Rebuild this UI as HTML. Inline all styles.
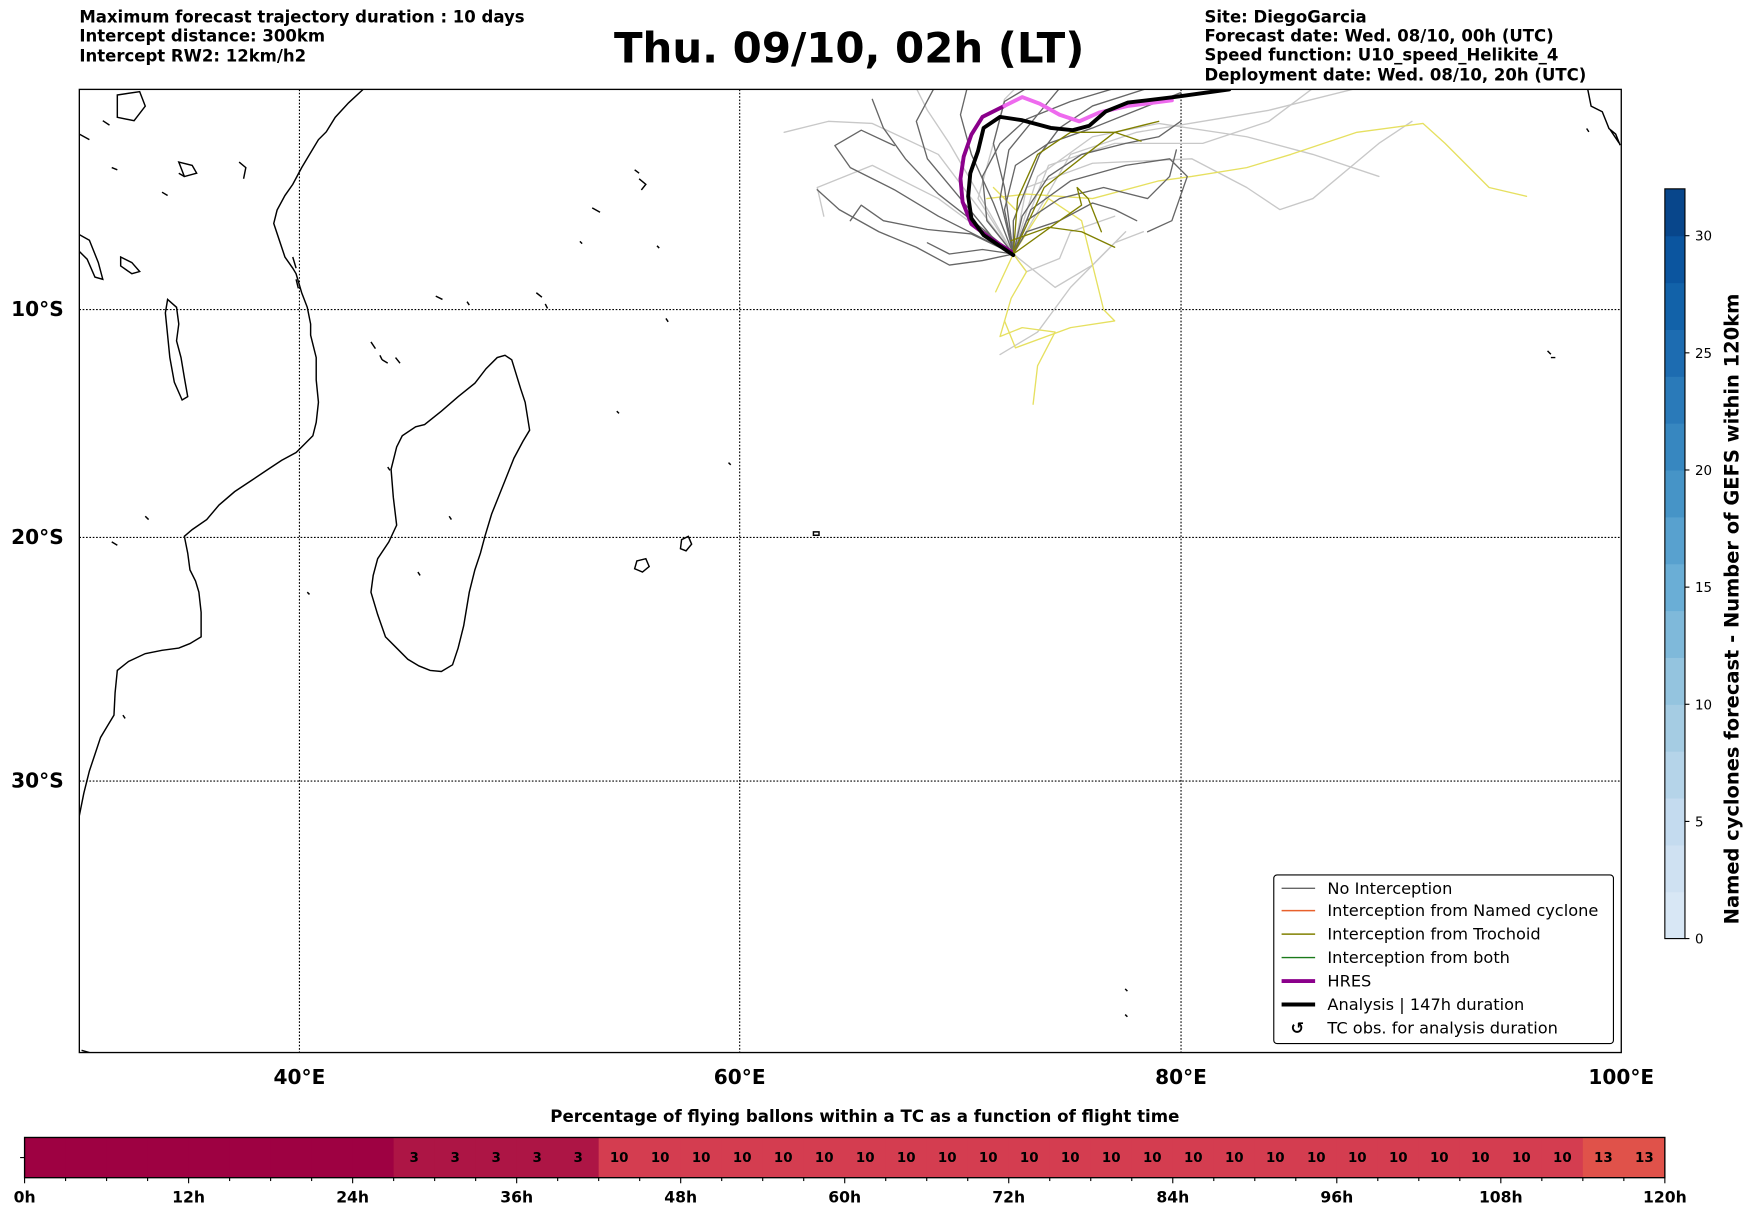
<!DOCTYPE html>
<html><head><meta charset="utf-8"><style>
html,body{margin:0;padding:0;background:#fff}
svg{display:block}
text{font-family:"DejaVu Sans","Liberation Sans",sans-serif}
</style></head><body>
<svg id="fig" xmlns="http://www.w3.org/2000/svg" width="1752" height="1213" viewBox="0 0 1568 1085.6">
<g font-size="14.8" font-weight="bold">
<text x="71" y="20">Maximum forecast trajectory duration : 10 days</text>
<text x="71" y="37">Intercept distance: 300km</text>
<text x="71" y="55">Intercept RW2: 12km/h2</text>
</g>
<text x="760" y="56" font-size="37.5" font-weight="bold" text-anchor="middle">Thu. 09/10, 02h (LT)</text>
<g font-size="14.8" font-weight="bold">
<text x="1078" y="20">Site: DiegoGarcia</text>
<text x="1078" y="37">Forecast date: Wed. 08/10, 00h (UTC)</text>
<text x="1078" y="54">Speed function: U10_speed_Helikite_4</text>
<text x="1078" y="72">Deployment date: Wed. 08/10, 20h (UTC)</text>
</g>
<defs><clipPath id="mapclip"><rect x="71" y="80" width="1380" height="862"/></clipPath></defs>
<g id="map" clip-path="url(#mapclip)">
<g id="coast" fill="none" stroke="#000" stroke-width="1.3">
<path d="M325,80 L312,92 300,105 292,118 285,125 276,140 270,150 262,165 255,175 248,188 245,200 250,215 255,230 262,240 265,245 270,262 275,275 278,290 278,300 283,320 283,340 285,360 283,378 280,390 272,398 265,405 252,412 240,420 225,430 210,440 196,452 185,465 172,474 165,480 168,495 170,510 175,520 178,530 180,548 180,570 170,576 160,580 145,582 130,585 115,592 105,600 103,620 102,640 96,650 90,660 85,675 80,690 75,710 71,730"/>
<path d="M452,318 L458,322 462,335 466,348 470,360 474,385 468,395 460,410 452,430 446,445 440,460 434,480 430,495 425,510 420,530 415,560 410,580 405,595 395,601 385,600 375,596 365,590 355,580 345,570 338,550 332,530 334,515 338,500 348,485 355,470 352,445 350,420 355,400 360,390 372,382 380,380 395,368 410,355 425,343 435,330 445,320 Z"/>
<path d="M150,268 L158,275 160,290 158,305 162,320 165,338 168,355 163,358 156,342 152,320 150,300 148,280 Z"/>
<path d="M105,85 L125,82 130,95 120,108 105,105 Z"/>
<path d="M71,210 L80,215 88,235 92,250 85,248 78,232 71,225"/>
<path d="M108,230 L118,235 125,243 118,245 108,238 Z"/>
<path d="M160,145 L172,148 176,155 165,158 Z"/>
<path d="M214,145 L220,150 218,160"/>
<path d="M610,483 L616,480 619,487 614,493 609,491 Z"/>
<path d="M570,502 L578,500 581,507 575,512 568,509 Z"/>
<path d="M728,476 L733,476 733,479 728,479 Z"/>
<path d="M332,306 L336,312 M342,322 L347,325 M354,320 L358,325 M340,318 L342,322"/>
<path d="M262,230 L265,240 M265,250 L267,258"/>
<path d="M130,462 L133,465 M275,530 L277,532 M110,640 L112,643"/>
<path d="M568,152 L572,155 M572,160 L578,165 574,170 M530,186 L537,190 M519,216 L521,218 M588,220 L590,222 M390,265 L396,268 M418,270 L420,273 M480,262 L485,266 M488,272 L490,276 M596,285 L598,288 M552,368 L554,370 M652,414 L654,416 M402,462 L404,465 M347,418 L349,421 M374,512 L376,515"/>
<path d="M1385,314 L1388,317 M1388,320 L1392,320 M1007,885 L1009,887 M1007,908 L1009,910"/>
<path d="M1421,80 L1424,95 1434,100 1438,110 1440,115 1446,120 1450,130 M1420,115 L1422,118 M1441,116 L1449,128"/>
<path d="M71,120 L80,125 M92,108 L98,112 M160,155 L165,158 M100,150 L105,152 M145,172 L150,175 M100,485 L105,488 M73,940 L80,942"/>
</g>
<g stroke="#000" stroke-width="1" stroke-dasharray="1.5,1.5" fill="none">
<line x1="268" y1="80" x2="268" y2="942"/><line x1="662" y1="80" x2="662" y2="942"/><line x1="1057" y1="80" x2="1057" y2="942"/>
<line x1="71" y1="277" x2="1451" y2="277"/><line x1="71" y1="481" x2="1451" y2="481"/><line x1="71" y1="699" x2="1451" y2="699"/>
</g>
<g id="traj" fill="none" stroke-linejoin="round" stroke-linecap="round"></g>
</g>
<rect x="71" y="80" width="1380" height="862" fill="none" stroke="#000" stroke-width="1.2"/>
<g font-size="18" font-weight="bold" text-anchor="end">
<text x="57" y="283">10°S</text><text x="57" y="487">20°S</text><text x="57" y="705">30°S</text>
</g>
<g font-size="18" font-weight="bold" text-anchor="middle">
<text x="268" y="970">40°E</text><text x="662" y="970">60°E</text><text x="1057" y="970">80°E</text><text x="1451" y="970">100°E</text>
</g>
<g>
<rect x="1140" y="783" width="304" height="151" rx="3" fill="#fff" stroke="#000" stroke-width="1"/>
<g font-size="14.5">
<line x1="1147" y1="795" x2="1177" y2="795" stroke="#666" stroke-width="1.3"/><text x="1188" y="800">No Interception</text>
<line x1="1147" y1="815" x2="1177" y2="815" stroke="#e8602c" stroke-width="1.3"/><text x="1188" y="820">Interception from Named cyclone</text>
<line x1="1147" y1="836" x2="1177" y2="836" stroke="#808000" stroke-width="1.3"/><text x="1188" y="841">Interception from Trochoid</text>
<line x1="1147" y1="857" x2="1177" y2="857" stroke="#1a7a1a" stroke-width="1.3"/><text x="1188" y="862">Interception from both</text>
<line x1="1147" y1="878" x2="1177" y2="878" stroke="#8b008b" stroke-width="3.5"/><text x="1188" y="883">HRES</text>
<line x1="1147" y1="899" x2="1177" y2="899" stroke="#000" stroke-width="3.5"/><text x="1188" y="904">Analysis | 147h duration</text>
<text x="1155" y="925" font-weight="bold">↺</text><text x="1188" y="925">TC obs. for analysis duration</text>
</g>
</g>
<g id="cbar"></g>
<text transform="translate(1556,545) rotate(-90)" font-size="17.4" font-weight="bold" text-anchor="middle">Named cyclones forecast - Number of GEFS within 120km</text>
<text x="774" y="1004" font-size="14.9" font-weight="bold" text-anchor="middle">Percentage of flying ballons within a TC as a function of flight time</text>
<g id="pbar"></g>
</svg>
<script>
// ---- trajectory data (lon, lat) ----
const analysisLon=[72.4,71.8,71.05,70.5,70.35,70.45,70.8,71.05,71.8,72.8,74.1,75.1,75.85,76.6,77.6,79.7,82.2];
const analysisLat=[-7.55,-7.15,-6.65,-5.9,-4.9,-3.85,-2.85,-1.8,-1.3,-1.45,-1.8,-1.9,-1.7,-1.05,-0.65,-0.4,-0.05];
const hresLon=[72.3,71.3,70.5,70.1,70.0,70.15,70.5,71.0,72.0,72.8,73.6,74.5,75.4,76.3,77.6,79.6];
const hresLat=[-7.4,-6.75,-6.15,-5.15,-4.1,-3.1,-2.1,-1.3,-0.8,-0.4,-0.7,-1.2,-1.5,-1.1,-0.8,-0.55];
const hresSplit=8;
const darkTraj=[
 [[72.4,-7.5],[71,-6.8],[69,-5.8],[67,-4.6],[65,-3.6],[64.3,-2.6],[65.5,-1.9],[67,-2.6]],
 [[72.4,-7.5],[70.5,-6.6],[68.5,-6.4],[66.5,-6],[65.5,-5.3],[65,-6]],
 [[72.4,-7.5],[71.2,-6],[71,-4],[71.8,-2.5],[73,-1.4],[75,-0.6],[77,0]],
 [[72.4,-7.5],[72,-5.5],[72.5,-3.5],[74,-2.5],[76,-1.8],[78,-1],[80,-0.2]],
 [[72.4,-7.5],[73,-6],[74.5,-5],[76.5,-4.5],[78.5,-5],[79.5,-4],[79.8,-2.8]],
 [[72.4,-7.5],[71.5,-5.2],[70.5,-3],[70,-1.2],[70.3,0]],
 [[72.4,-7.5],[71,-7.3],[69.5,-7.5],[68.5,-7]],
 [[72.4,-7.5],[73.2,-5.5],[75,-4.2],[77.5,-3.5],[79.5,-3.2],[80.3,-4],[79.6,-6],[78.5,-6.5]],
 [[72.4,-7.5],[71.8,-5],[72.2,-2.8],[73.5,-1.2],[74.5,0]],
 [[72.4,-7.5],[70.8,-6.2],[69,-4.8],[67.5,-3.2],[66.5,-1.8],[66,-0.5]],
 [[72.4,-7.5],[72.8,-5.8],[74,-4],[75.5,-3],[77.5,-2.5],[79,-2.2],[80,-1.5]],
 [[72.4,-7.5],[71.5,-6.8],[70,-5],[68.5,-3.2],[68,-1.5],[68.8,0]],
 [[72.4,-7.5],[73,-6.5],[74.5,-6],[76,-5.2],[77,-5.5],[78,-6]],
 [[72.4,-7.5],[72.4,-6],[73,-4.5],[73.6,-3],[74.5,-1.8],[76,-0.8],[78.5,0]],
 [[72.4,-7.5],[71,-7.8],[69.5,-8],[68,-7.2],[66.3,-6.5],[64.5,-5.5],[63.5,-4.6]],
 [[72.4,-7.5],[72,-4.5],[71.5,-2.5],[72,-0.6],[73,0]]
];
const lightTraj=[
 [[72.4,-7.5],[69,-5],[66,-3.5],[63.5,-4.5],[63.8,-5.8]],
 [[72.4,-7.5],[69,-3],[66,-1.6],[64,-1.5],[62,-2]],
 [[72.4,-7.5],[73.5,-4],[76,-2.2],[79,-1.6],[83,-2.2],[86,-3],[89,-4]],
 [[72.4,-7.5],[74,-3.5],[77,-2.5],[81,-2.5],[84,-1.5],[86,0]],
 [[72.4,-7.5],[73,-4.5],[76,-3.4],[80.5,-3.2],[83,-4.5],[84.5,-5.5],[86,-5],[89,-2.5],[90.5,-1.5]],
 [[72.4,-7.5],[73,-8.3],[74.5,-7.7],[75,-6.5],[77,-5.8]],
 [[72.4,-7.5],[70.8,-5],[71.5,-2.5],[72,-0.5],[72.5,0]],
 [[72.4,-7.5],[74.3,-9],[76,-8],[77,-7],[78.3,-6.5]],
 [[71.8,-12],[73.5,-11],[75,-9],[76.5,-7.5],[77.5,-6.5]],
 [[72.4,-7.5],[75,-3],[78,-2],[81,-1.5],[84,-1],[88,0]],
 [[72.4,-7.5],[69.5,-2.5],[68.5,-1],[68,0]]
];
const yellowTraj=[
 [[72.4,-7.5],[73,-8.3],[72.3,-9.5],[71.8,-11.2],[72.8,-10.8],[74.3,-11],[73.5,-12.5],[73.3,-14.2]],
 [[72.4,-7.5],[71.6,-9.2]],
 [[72.4,-7.5],[74,-5],[75.5,-6],[76.5,-10],[77,-10.5],[75,-10.8],[72.5,-11.7],[72,-10.5]],
 [[71.2,-5],[73,-4.8],[76,-5],[79,-4.2],[80.5,-4],[83,-3.6],[85,-3],[88,-2],[91,-1.6],[92,-2.5],[94,-4.5],[95.7,-4.9]],
 [[71.5,-4.5],[72.5,-5.5]]
];
const oliveTraj=[
 [[72.4,-7.5],[72.6,-5],[73.5,-3],[75,-2],[77,-2],[78.2,-2.4]],
 [[72.4,-7.5],[74.5,-6],[75.5,-5.3],[75.3,-4.5],[75.8,-5],[76.4,-6.5]],
 [[72.4,-7.5],[73.8,-4.5],[75.7,-3],[77,-2],[79,-1.5]],
 [[72.3,-6.9],[74,-6.3],[75.5,-6.5],[77,-7.2]]
];
// ---- colorbar & percentage bar data ----
const cbarLevels=[0,2,4,6,8,10,12,14,16,18,20,22,24,26,28,30,32];
const cbarColors=["#d8e7f5","#cfe1f2","#c4dbef","#b5d4e9","#a5cce3","#94c4df","#7fb9da","#6aaed6","#58a1cf","#4694c7","#3787c0","#2a7ab9","#1d6cb1","#1262a9","#0b559f","#08468b"];
const cbarTicks=[0,5,10,15,20,25,30];
const pctValues=[0,0,0,0,0,0,0,0,0,3,3,3,3,3,10,10,10,10,10,10,10,10,10,10,10,10,10,10,10,10,10,10,10,10,10,10,10,10,13,13];
const hourTicks=["0h","12h","24h","36h","48h","60h","72h","84h","96h","108h","120h"];

const NS="http://www.w3.org/2000/svg";
function el(tag,attrs,parent){const e=document.createElementNS(NS,tag);for(const k in attrs)e.setAttribute(k,attrs[k]);parent.appendChild(e);return e;}
const xScale=lon=>71+(lon-30)*19.714;
const R=19.714*180/Math.PI;
const yScale=lat=>79+R*Math.log(Math.tan(Math.PI/4-lat*Math.PI/360));
function ptsStr(arr){return arr.map(p=>xScale(p[0]).toFixed(1)+","+yScale(p[1]).toFixed(1)).join(" ");}
function zip(a,b){return a.map((v,i)=>[v,b[i]]);}
const tg=document.getElementById('traj');
function drawGroup(list,color,w,name){
 list.forEach((t,i)=>{
  const p=el('polyline',{points:ptsStr(t),stroke:color,'stroke-width':w},tg);
  
  
 });
}
drawGroup(lightTraj,'#c8c8c8',1.2,'light-trajectory');
drawGroup(yellowTraj,'#e6e060',1.2,'trochoid-light-trajectory');
drawGroup(darkTraj,'#666666',1.2,'no-interception-trajectory');
drawGroup(oliveTraj,'#808000',1.2,'trochoid-trajectory');
const hres=zip(hresLon,hresLat);
const h1=el('polyline',{points:ptsStr(hres.slice(0,hresSplit+1)),stroke:'#8b008b','stroke-width':3.5},tg);


const h2=el('polyline',{points:ptsStr(hres.slice(hresSplit)),stroke:'#ee6aee','stroke-width':3.5},tg);


const an=el('polyline',{points:ptsStr(zip(analysisLon,analysisLat)),stroke:'#000','stroke-width':3.5},tg);



const cg=document.getElementById('cbar');
const cbY=v=>840-(v-0)/(32-0)*(840-169);
cbarColors.forEach((c,i)=>{
 const r=el('rect',{x:1490,y:cbY(cbarLevels[i+1]),width:18,height:cbY(cbarLevels[i])-cbY(cbarLevels[i+1])+0.5,fill:c},cg);
 
 
});
el('rect',{x:1490,y:169,width:18,height:671,fill:'none',stroke:'#000','stroke-width':1},cg);
cbarTicks.forEach(v=>{
 el('line',{x1:1508,y1:cbY(v),x2:1512,y2:cbY(v),stroke:'#000'},cg);
 const t=el('text',{x:1517,y:cbY(v)+4.5,'font-size':12},cg);
 t.textContent=v;
 
 
});

const pg=document.getElementById('pbar');
const bx0=22,bx1=1490,by0=1018,by1=1054;
const cw=(bx1-bx0)/pctValues.length;
function pctColor(v){return v>=13?'#e0524a':v>=10?'#d43d50':v>=3?'#ad1545':'#9e0142';}
pctValues.forEach((v,i)=>{
 const r=el('rect',{x:bx0+i*cw,y:by0,width:cw+0.5,height:by1-by0,fill:pctColor(v)},pg);
 
 
 if(v>0){
  const t=el('text',{x:bx0+(i+0.5)*cw,y:by0+22,'font-size':12,'font-weight':'bold','text-anchor':'middle'},pg);
  t.textContent=v;
  
  
 }
});
el('rect',{x:bx0,y:by0,width:bx1-bx0,height:by1-by0,fill:'none',stroke:'#000','stroke-width':1.2},pg);
el('line',{x1:bx0-4,y1:(by0+by1)/2,x2:bx0,y2:(by0+by1)/2,stroke:'#000'},pg);
for(let i=0;i<=pctValues.length;i++){
 el('line',{x1:bx0+i*cw,y1:by1,x2:bx0+i*cw,y2:by1+(i%4===0?5:3),stroke:'#000'},pg);
}
hourTicks.forEach((h,i)=>{
 const t=el('text',{x:bx0+i*4*cw,y:by1+22,'font-size':14,'font-weight':'bold','text-anchor':'middle'},pg);
 t.textContent=h;
 
 
});
</script>
</body></html>
